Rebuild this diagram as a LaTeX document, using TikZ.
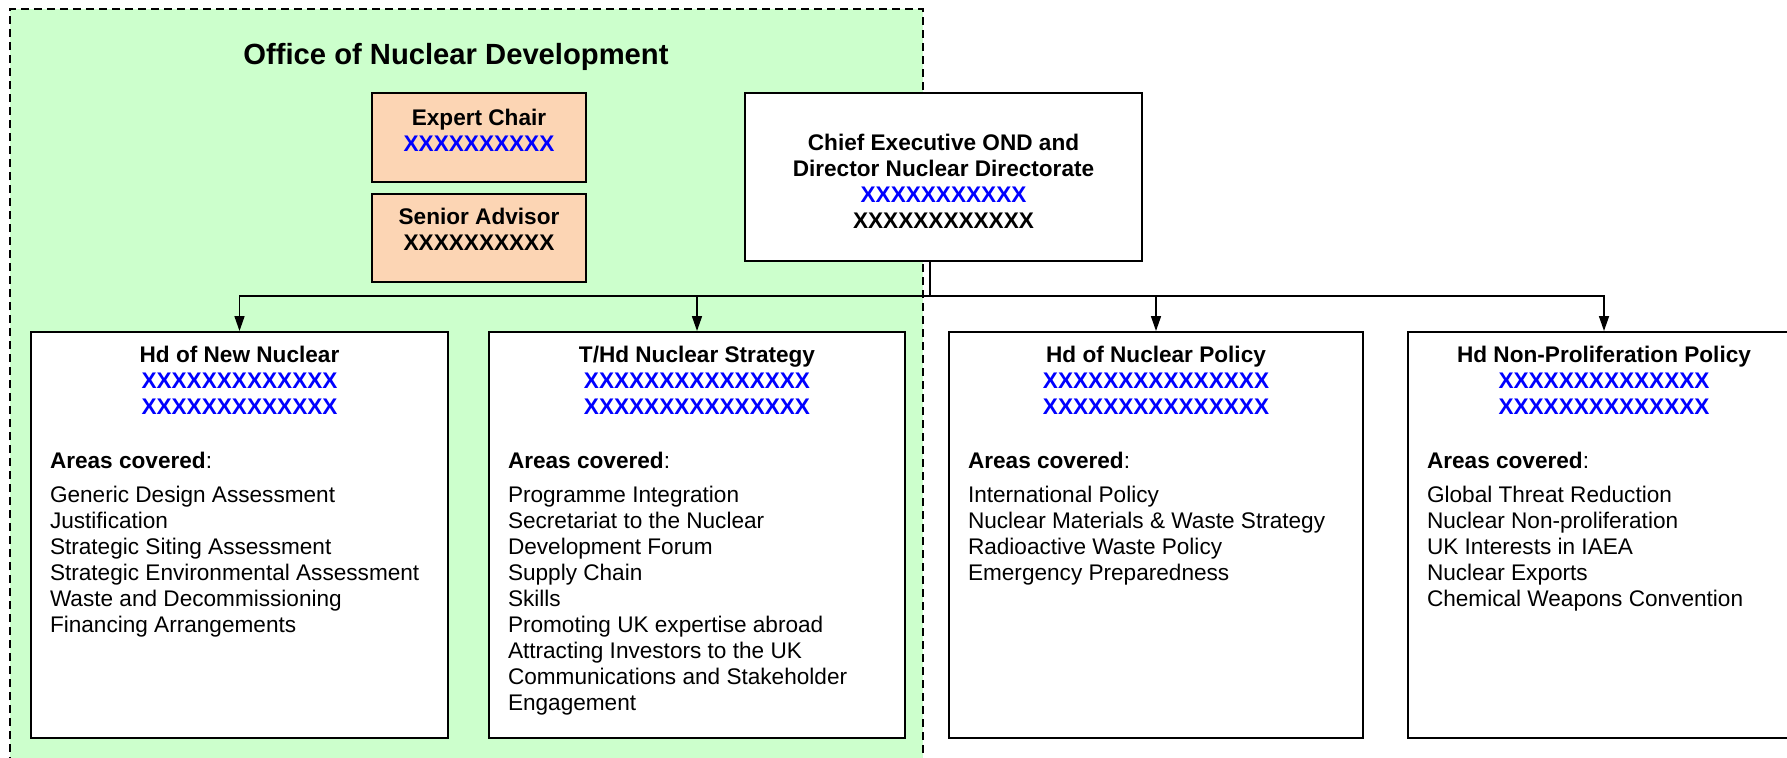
\documentclass[tikz,border=0pt]{standalone}
\usepackage{fontspec}
\setmainfont{Liberation Sans}
\usetikzlibrary{arrows.meta}
\definecolor{ondgreen}{HTML}{CCFFCC}
\definecolor{peach}{HTML}{FCD5B4}
\definecolor{nameblue}{HTML}{0000FF}
\newcommand\blx[1]{\textcolor{nameblue}{#1}}

\begin{document}
\begin{tikzpicture}[x=0.5pt,y=-0.5pt,
  txt/.style={font=\fontsize{11.3}{13}\selectfont, inner sep=0pt, outer sep=0pt},
  head/.style={txt, font=\fontsize{11.3}{13}\selectfont\bfseries, align=center, anchor=north},
  areas/.style={txt, align=left, anchor=north west},
  panel/.style={draw, line width=1pt, fill=white, anchor=north, minimum width=208pt, minimum height=203pt, inner sep=0pt},
  post/.style={draw, line width=1.2pt, fill=peach, anchor=north, minimum width=107pt, minimum height=44.5pt, inner sep=0pt},
  link/.style={line width=0.8pt},
  arr/.style={link, -{Triangle[length=7.5pt,width=5pt]}}
]
\useasboundingbox (0,0) rectangle (1787,757);
\begin{scope}
\clip (0,0) rectangle (1787,757);

% Office of Nuclear Development area
\draw[fill=ondgreen, line width=1pt, dash pattern=on 4pt off 2.5pt] (10,830) -- (10,9) -- (923,9) -- (923,830);
\node[txt, font=\fontsize{14.6}{17}\selectfont\bfseries, anchor=north] (office) at (456,43) {Office of Nuclear Development};

% advisory posts
\node[post] (chair) at (479,92) {};
\node[head] (chairt) at ([yshift=-8.5pt]chair.north) {Expert Chair\\ \blx{XXXXXXXXXX}};
\node[post, minimum height=44pt] (advisor) at (479,193) {};
\node[head] (advisort) at ([yshift=-7.5pt]advisor.north) {Senior Advisor\\ XXXXXXXXXX};

% chief executive
\node[draw, line width=1pt, fill=white, anchor=north, minimum width=198.5pt, minimum height=84pt] (chief) at (943.5,92) {};
\node[head] (chieft) at ([yshift=-21pt]chief.north) {Chief Executive OND and\\ Director Nuclear Directorate\\ \blx{XXXXXXXXXXX}\\ XXXXXXXXXXXX};

% directorate panels
\node[panel, minimum width=208.5pt] (newn) at (239.5,331) {};
\node[panel] (strat) at (697,331) {};
\node[panel, minimum width=207pt] (policy) at (1156,331) {};
\node[panel, minimum width=196pt] (nonpro) at (1604,331) {};

\node[head] (newnh) at ([yshift=-7.5pt]newn.north) {Hd of New Nuclear\\ \blx{XXXXXXXXXXXXX}\\ \blx{XXXXXXXXXXXXX}};
\node[head] (strath) at ([yshift=-7.5pt]strat.north) {T/Hd Nuclear Strategy\\ \blx{XXXXXXXXXXXXXXX}\\ \blx{XXXXXXXXXXXXXXX}};
\node[head] (policyh) at ([yshift=-7.5pt]policy.north) {Hd of Nuclear Policy\\ \blx{XXXXXXXXXXXXXXX}\\ \blx{XXXXXXXXXXXXXXX}};
\node[head] (nonproh) at ([yshift=-7.5pt]nonpro.north) {Hd Non-Proliferation Policy\\ \blx{XXXXXXXXXXXXXX}\\ \blx{XXXXXXXXXXXXXX}};

\node[areas] (newnl) at ([xshift=10pt,yshift=-60.5pt]newn.north west) {\textbf{Areas covered}:\\[4pt]
  Generic Design Assessment\\ Justification\\ Strategic Siting Assessment\\
  Strategic Environmental Assessment\\ Waste and Decommissioning\\ Financing Arrangements};
\node[areas] (stratl) at ([xshift=10pt,yshift=-60.5pt]strat.north west) {\textbf{Areas covered}:\\[4pt]
  Programme Integration\\ Secretariat to the Nuclear\\ Development Forum\\ Supply Chain\\ Skills\\
  Promoting UK expertise abroad\\ Attracting Investors to the UK\\ Communications and Stakeholder\\ Engagement};
\node[areas] (policyl) at ([xshift=10pt,yshift=-60.5pt]policy.north west) {\textbf{Areas covered}:\\[4pt]
  International Policy\\ Nuclear Materials \& Waste Strategy\\ Radioactive Waste Policy\\ Emergency Preparedness};
\node[areas] (nonprol) at ([xshift=10pt,yshift=-60.5pt]nonpro.north west) {\textbf{Areas covered}:\\[4pt]
  Global Threat Reduction\\ Nuclear Non-proliferation\\ UK Interests in IAEA\\ Nuclear Exports\\ Chemical Weapons Convention};

% reporting lines
\coordinate (bus) at (930,296);
\draw[link] (chief.south -| bus) -- (bus);
\draw[arr] (bus) -| (newn.north);
\draw[arr] (bus) -| (strat.north);
\draw[arr] (bus) -| (policy.north);
\draw[arr] (bus) -| (nonpro.north);
\end{scope}
\end{tikzpicture}
\end{document}
